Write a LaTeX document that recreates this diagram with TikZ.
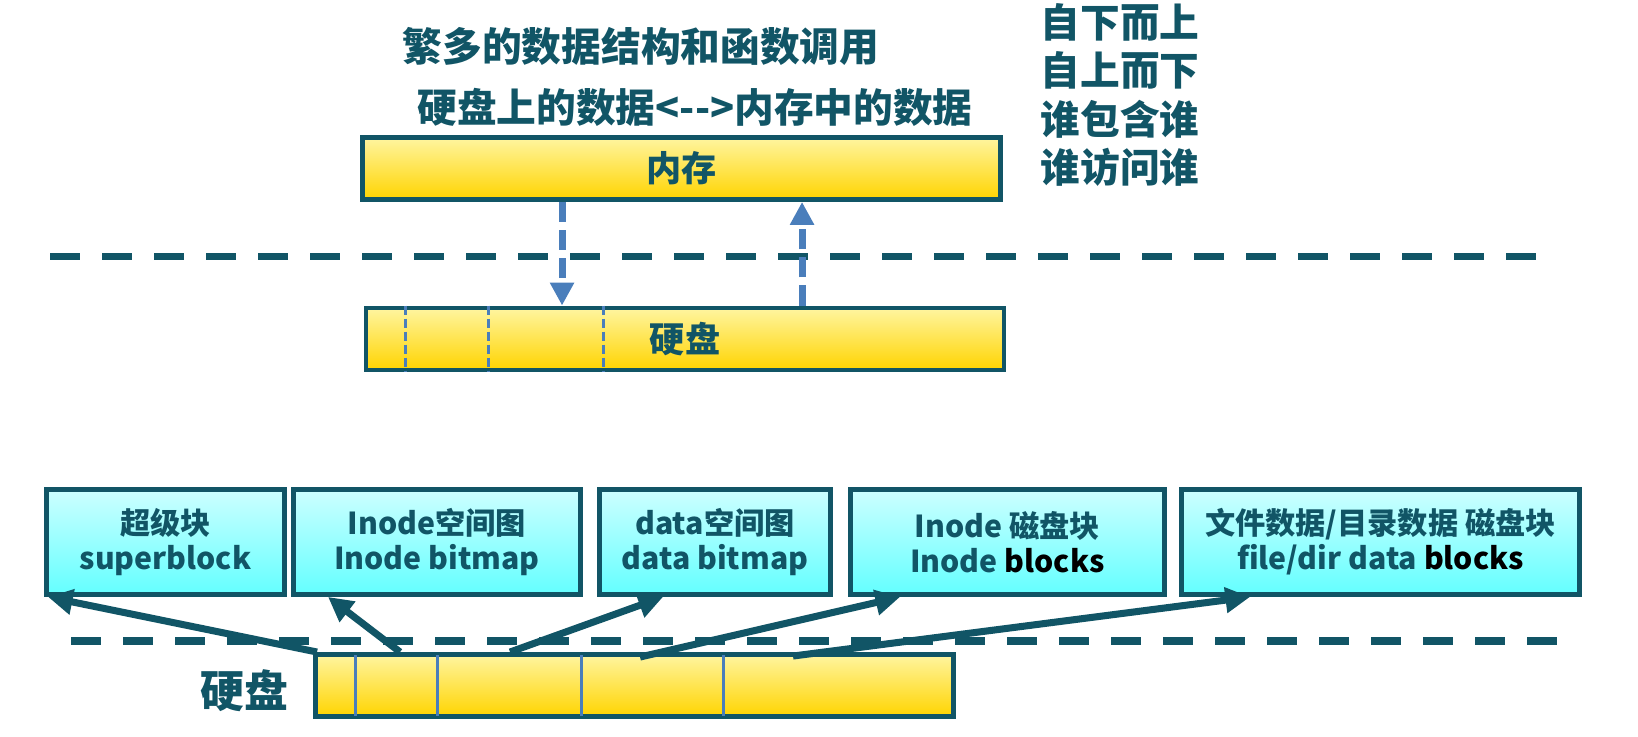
\documentclass[tikz,border=0pt]{standalone}
\usepackage{fontspec}
\newfontfamily\cjk{Noto Sans CJK SC}
\usetikzlibrary{arrows.meta,calc}

\definecolor{inkteal}{RGB}{17,85,102}
\definecolor{flowblue}{RGB}{74,126,187}
\definecolor{goldtop}{RGB}{255,245,160}
\definecolor{goldbot}{RGB}{255,212,0}
\definecolor{cyantop}{RGB}{204,255,255}
\definecolor{cyanbot}{RGB}{100,255,255}

\begin{document}
\begin{tikzpicture}[
    bar/.style={draw=inkteal, line width=1.4pt, top color=goldtop, bottom color=goldbot,
        minimum width=6.38cm, minimum height=0.62cm, inner sep=0pt, text=inkteal,
        font=\cjk\bfseries\fontsize{10}{12}\selectfont},
    part/.style={draw=inkteal, line width=1.4pt, top color=cyantop, bottom color=cyanbot,
        minimum height=1.05cm, inner sep=0pt, align=center, text=inkteal,
        font=\cjk\bfseries\fontsize{8.6}{10}\selectfont},
    head/.style={text=inkteal, inner sep=0pt, font=\cjk\bfseries\fontsize{11.3}{13.7}\selectfont},
    sep/.style={inkteal, line width=2pt, dash pattern=on 8.5pt off 6.3pt},
    flow/.style={flowblue, line width=2pt, dash pattern=on 5.7pt off 2.3pt,
        -{Triangle[length=6.5pt,width=6.5pt]}},
    link/.style={inkteal, line width=2pt, -{Triangle[length=7pt,width=7pt]}},
    cut/.style={flowblue, line width=0.85pt}
]
    \useasboundingbox (0,0) rectangle (16.38,7.37);

    \node[head] at (6.41,6.91) (title1) {繁多的数据结构和函数调用};
    \node[head] at (6.95,6.30) (title2) {硬盘上的数据<{-}{-}>内存中的数据};
    \node[head, align=left] at (11.20,6.42) (ways) {自下而上\\自上而下\\谁包含谁\\谁访问谁};

    \node[bar] at (6.815,5.685) (mem) {内存};
    \node[bar] at (6.85,3.98) (disk) {};
    \node[text=inkteal, font=\cjk\bfseries\fontsize{10}{12}\selectfont] at (6.85,3.98) (disklabel) {硬盘};
    \foreach \dx in {0.42,1.25,2.40}
        \draw[cut, dash pattern=on 2.8pt off 0.9pt] ($(disk.north west)+(\dx,0)$) -- ($(disk.south west)+(\dx,0)$);

    \draw[sep] (0.50,4.80) -- (15.50,4.80);
    \draw[flow] ($(mem.south west)+(2.02,0)$) coordinate (down) -- (down |- disk.north);
    \draw[flow] ($(mem.south west)+(4.42,0)$) coordinate (up) ++(0,0) (up |- disk.north) -- (up);

    \node[part, minimum width=2.38cm] at (1.655,1.95) (box1) {超级块\\superblock};
    \node[part, minimum width=2.87cm] at (4.37,1.95) (box2) {Inode空间图\\Inode bitmap};
    \node[part, minimum width=2.31cm] at (7.15,1.95) (box3) {data空间图\\data bitmap};
    \node[part, minimum width=3.14cm] at (10.075,1.95) (box4) {Inode 磁盘块\\Inode \textcolor{black}{blocks}};
    \node[part, minimum width=3.98cm] at (13.805,1.95) (box5) {文件数据/目录数据 磁盘块\\file/dir data \textcolor{black}{blocks}};

    \draw[sep] (0.71,0.96) -- (15.65,0.96);

    \node[bar] at (6.345,0.515) (disk3) {};
    \foreach \dx in {0.42,1.24,2.68,4.10}
        \draw[cut] ($(disk3.north west)+(\dx,-0.03)$) -- ($(disk3.south west)+(\dx,0.03)$);
    \node[text=inkteal, font=\cjk\bfseries\fontsize{12.5}{14}\selectfont] at (2.44,0.46) (disk3label) {硬盘};

    \draw[link] ($(disk3.north west)+(0.04,0)$) -- ($(box1.south west)+(0.04,0)$);
    \draw[link] ($(disk3.north west)+(0.87,0)$) -- ($(box2.south west)+(0.37,0)$);
    \draw[link] ($(disk3.north west)+(1.97,0)$) -- ($(box3.south west)+(0.66,0)$);
    \draw[link] ($(disk3.north west)+(3.27,-0.05)$) -- ($(box4.south west)+(0.52,0)$);
    \draw[link] ($(disk3.north west)+(4.80,-0.04)$) -- ($(box5.south west)+(0.71,0)$);

\end{tikzpicture}
\end{document}
